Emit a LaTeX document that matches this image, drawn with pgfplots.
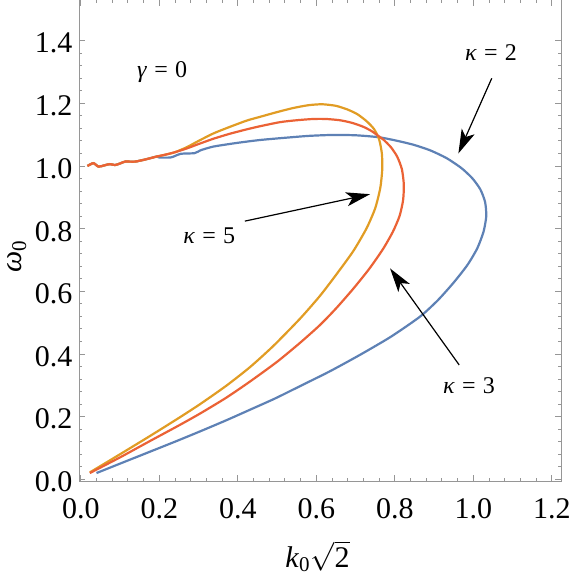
\documentclass[border=0pt]{standalone}
\usepackage{fontspec}
\setmainfont{Liberation Serif}
\usepackage{pgfplots}
\pgfplotsset{compat=1.18}
\usetikzlibrary{arrows.meta,calc}

\definecolor{mmablue}{RGB}{94,129,181}
\definecolor{mmaorange}{RGB}{225,156,36}
\definecolor{mmared}{RGB}{235,98,53}
\definecolor{framegray}{RGB}{150,150,150}

\newcommand{\eqlab}[2]{\textit{#1}\hspace{0.3em}=\hspace{0.3em}#2}

\begin{document}
\begin{tikzpicture}
\begin{axis}[
    name=ax,
    scale only axis,
    width=241.35pt, height=240.65pt,
    xmin=-0.0046, xmax=1.2252,
    ymin=-0.0064, ymax=1.5298,
    xtick={0,0.2,0.4,0.6,0.8,1.0,1.2},
    xticklabels={0.0,0.2,0.4,0.6,0.8,1.0,1.2},
    ytick={0,0.2,0.4,0.6,0.8,1.0,1.2,1.4},
    yticklabels={0.0,0.2,0.4,0.6,0.8,1.0,1.2,1.4},
    minor tick num=4,
    tick align=inside,
    major tick length=3.2pt, minor tick length=1.7pt,
    axis line style={framegray, line width=0.5pt},
    tick style={framegray, line width=0.45pt},
    ticklabel style={font=\fontsize{15}{18}\selectfont\rmfamily},
    xticklabel style={anchor=base, inner sep=0pt, yshift=-18.5pt},
    yticklabel style={anchor=east, inner sep=0pt, xshift=-3.15pt, yshift=-1.3pt},
    xlabel={\textit{k}\textsubscript{0}$\sqrt{\mbox{2}}$},
    xlabel style={font=\fontsize{15}{18}\selectfont, at={(rel axis cs:0.494,0)},
      anchor=center, inner sep=0pt, yshift=-37.5pt},
    every axis plot/.append style={line width=1.1pt, no markers, smooth, tension=0.4},
]
% kappa = 2
\addplot[mmablue] coordinates {
 (0.040,0.020) (0.100,0.050) (0.176,0.088) (0.240,0.120) (0.304,0.153)
 (0.370,0.188) (0.431,0.222) (0.495,0.258) (0.558,0.297) (0.635,0.345)
 (0.711,0.397) (0.790,0.455) (0.864,0.519) (0.910,0.572) (0.950,0.628)
 (0.985,0.684) (1.010,0.737) (1.026,0.790) (1.033,0.840) (1.030,0.885)
 (1.018,0.925) (0.998,0.960) (0.970,0.993) (0.932,1.025) (0.890,1.050)
 (0.847,1.068) (0.800,1.082) (0.758,1.092) (0.700,1.098) (0.640,1.099)
 (0.580,1.096) (0.520,1.090) (0.457,1.083) (0.400,1.074) (0.338,1.062)
 (0.305,1.050) (0.290,1.041) (0.255,1.039) (0.240,1.032) (0.228,1.027)
 (0.200,1.027) (0.193,1.030)
 (0.165,1.021) (0.138,1.014) (0.113,1.014) (0.100,1.008) (0.087,1.003)
 (0.074,1.006) (0.060,1.002) (0.045,0.998) (0.032,1.009) (0.017,1.000)
};
% kappa = 5
\addplot[mmaorange] coordinates {
 (0.023,0.022) (0.100,0.080) (0.176,0.138) (0.250,0.196) (0.304,0.240)
 (0.370,0.298) (0.431,0.358) (0.490,0.425) (0.558,0.512) (0.609,0.585)
 (0.650,0.652) (0.694,0.728) (0.728,0.801) (0.750,0.865) (0.763,0.930)
 (0.768,0.990) (0.767,1.040) (0.760,1.085) (0.747,1.118) (0.728,1.143)
 (0.705,1.165) (0.680,1.180) (0.650,1.192) (0.615,1.197) (0.580,1.194)
 (0.541,1.185) (0.500,1.172) (0.457,1.157) (0.423,1.145) (0.380,1.125)
 (0.338,1.104) (0.300,1.080) (0.270,1.060) (0.240,1.044) (0.215,1.036)
 (0.193,1.030)
 (0.165,1.021) (0.138,1.014) (0.113,1.014) (0.100,1.008) (0.087,1.003)
 (0.074,1.006) (0.060,1.002) (0.045,0.998) (0.032,1.009) (0.017,1.000)
};
% kappa = 3
\addplot[mmared] coordinates {
 (0.023,0.020) (0.100,0.070) (0.176,0.122) (0.250,0.172) (0.304,0.210)
 (0.370,0.260) (0.431,0.312) (0.500,0.375) (0.558,0.435) (0.609,0.492)
 (0.650,0.545) (0.694,0.608) (0.735,0.672) (0.770,0.735) (0.795,0.790)
 (0.812,0.840) (0.821,0.890) (0.823,0.940) (0.818,0.990) (0.806,1.030)
 (0.790,1.060) (0.772,1.083) (0.758,1.096) (0.740,1.112) (0.718,1.126)
 (0.690,1.138) (0.660,1.146) (0.625,1.150) (0.592,1.150) (0.550,1.146)
 (0.508,1.140) (0.457,1.127) (0.423,1.117) (0.380,1.103) (0.338,1.087)
 (0.300,1.070) (0.270,1.056) (0.240,1.044) (0.215,1.036) (0.193,1.030)
 (0.165,1.021) (0.138,1.014) (0.113,1.014) (0.100,1.008) (0.087,1.003)
 (0.074,1.006) (0.060,1.002) (0.045,0.998) (0.032,1.009) (0.017,1.000)
};
% annotations
\begin{scope}[font=\fontsize{12}{14}\selectfont]
\node at (axis cs:0.207,1.300) {\eqlab{γ}{0}};
\node at (axis cs:1.045,1.361) {\eqlab{κ}{2}};
\node at (axis cs:0.327,0.776) {\eqlab{κ}{5}};
\node at (axis cs:0.989,0.299) {\eqlab{κ}{3}};
\end{scope}
\begin{scope}[line width=0.6pt, -{Stealth[length=12pt, width=7pt, inset=3pt]}]
\draw (axis cs:1.047,1.280) -- (axis cs:0.962,1.040);
\draw (axis cs:0.418,0.824) -- (axis cs:0.737,0.910);
\draw (axis cs:0.964,0.365) -- (axis cs:0.788,0.673);
\end{scope}
\end{axis}
\node[rotate=90, inner sep=0pt, font=\fontsize{15}{18}\selectfont]
  at ($(ax.south west)!0.468!(ax.north west)+(-31pt,0)$) {\textit{ω}\textsubscript{0}};
\pgfresetboundingbox
\path ($(ax.south west)+(-39.5pt,-47.35pt)$) rectangle ($(ax.north east)+(5.15pt,0pt)$);
\end{tikzpicture}
\end{document}
